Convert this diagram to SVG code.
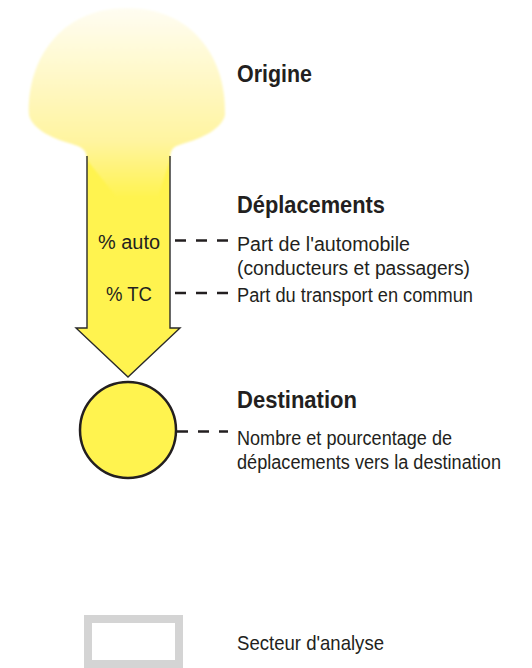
<svg xmlns="http://www.w3.org/2000/svg" width="532" height="668" viewBox="0 0 532 668">
<style>
.t{font-family:"Liberation Sans",Arial,sans-serif;fill:#231f20}
.b{font-weight:bold;font-size:24px}
.n{font-size:20px}
.dash{stroke:#231f20;stroke-width:2.5;stroke-dasharray:11 10;fill:none}
</style>
<defs>
<linearGradient id="glow" x1="0" y1="8" x2="0" y2="198" gradientUnits="userSpaceOnUse">
<stop offset="0" stop-color="#fffdf2"/>
<stop offset="0.7" stop-color="#fff4a0"/>
<stop offset="1" stop-color="#fff34f"/>
</linearGradient>
<filter id="soft" x="-10%" y="-10%" width="120%" height="120%">
<feGaussianBlur stdDeviation="1.2"/>
</filter>
</defs>
<rect width="532" height="668" fill="#ffffff"/>
<g id="deplacements-arrow">
<path d="M87,155 L87,328 L76,328 L128,377 L180,328 L170,328 L170,155 Z" fill="#fff34f"/>
</g>
<g id="origine">
<path filter="url(#soft)" fill="url(#glow)" d="M87,160 C87,150 82,147 72,144 C50,138 32,128 29,115 C27,60 60,8 127,8 C194,8 227,60 225,115 C222,128 204,138 182,144 C172,147 170,150 170,160 L158,196 L116,196 Z"/>
<path d="M87,156 L87,328 L76,328 L128,377 L180,328 L170,328 L170,156" fill="none" stroke="#2a2a2a" stroke-width="1.4"/>
</g>
<g id="labels-arrow">
<text class="t n" x="98" y="249" textLength="62" lengthAdjust="spacingAndGlyphs">% auto</text>
<text class="t n" x="106" y="301" textLength="46" lengthAdjust="spacingAndGlyphs">% TC</text>
</g>
<g id="destination">
<circle cx="128" cy="430" r="48" fill="#fff34f" stroke="#231f20" stroke-width="2.5"/>
</g>
<g id="connectors">
<line class="dash" x1="175" y1="240.5" x2="228" y2="240.5"/>
<line class="dash" x1="175" y1="293" x2="228" y2="293"/>
<line class="dash" x1="177" y1="431.5" x2="228" y2="431.5"/>
</g>
<g id="text-origine"><text class="t b" x="237" y="82" textLength="75" lengthAdjust="spacingAndGlyphs">Origine</text></g>
<g id="text-deplacements">
<text class="t b" x="237" y="213" textLength="148" lengthAdjust="spacingAndGlyphs">Déplacements</text>
<text class="t n" x="237" y="251" textLength="173" lengthAdjust="spacingAndGlyphs">Part de l'automobile</text>
<text class="t n" x="237" y="275" textLength="233" lengthAdjust="spacingAndGlyphs">(conducteurs et passagers)</text>
<text class="t n" x="237" y="302" textLength="236" lengthAdjust="spacingAndGlyphs">Part du transport en commun</text>
</g>
<g id="text-destination">
<text class="t b" x="237" y="408" textLength="120" lengthAdjust="spacingAndGlyphs">Destination</text>
<text class="t n" x="237" y="445" textLength="215" lengthAdjust="spacingAndGlyphs">Nombre et pourcentage de</text>
<text class="t n" x="237" y="469" textLength="264" lengthAdjust="spacingAndGlyphs">déplacements vers la destination</text>
</g>
<g id="secteur">
<rect x="88" y="619" width="91" height="45" fill="#ffffff" stroke="#d4d4d4" stroke-width="8"/>
<text class="t" x="237" y="650" font-size="21" textLength="147" lengthAdjust="spacingAndGlyphs">Secteur d'analyse</text>
</g>
</svg>
